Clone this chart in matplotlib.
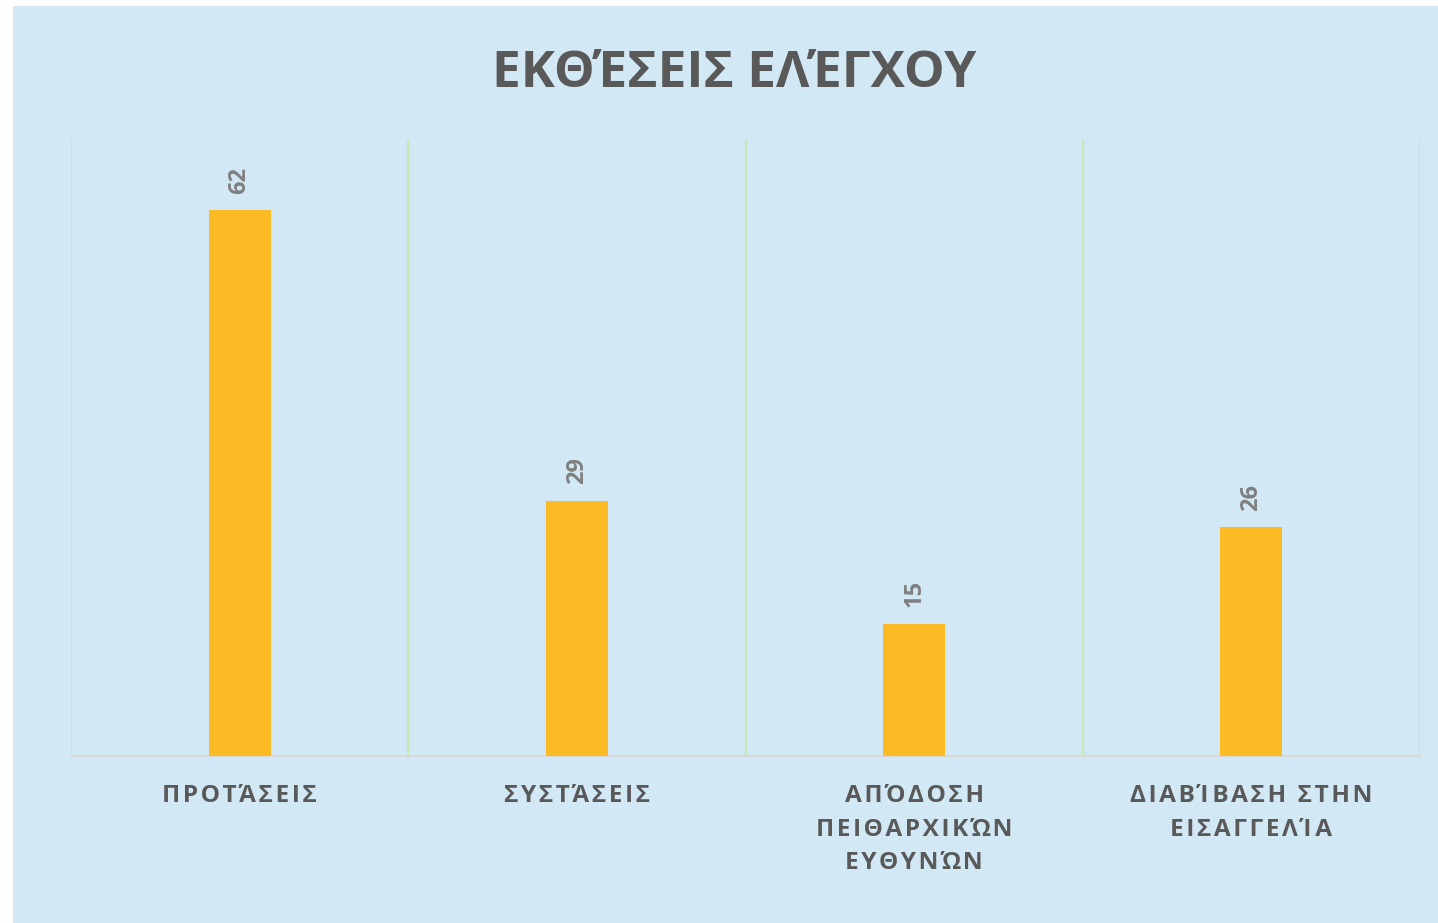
import matplotlib.pyplot as plt
from matplotlib.patches import Rectangle

categories = ["ΠΡΟΤΆΣΕΙΣ", "ΣΥΣΤΆΣΕΙΣ", "ΑΠΌΔΟΣΗ\nΠΕΙΘΑΡΧΙΚΏΝ\nΕΥΘΥΝΏΝ", "ΔΙΑΒΊΒΑΣΗ ΣΤΗΝ\nΕΙΣΑΓΓΕΛΊΑ"]
values = [62, 29, 15, 26]
title = "ΕΚΘΈΣΕΙΣ ΕΛΈΓΧΟΥ"

FONT = ["Open Sans", "DejaVu Sans"]


def spaced(s, gap="\u200a"):
    # fake letter spacing with narrow spaces
    out = []
    for line in s.split("\n"):
        words = [gap.join(w) for w in line.split(" ")]
        out.append((gap + " " + gap).join(words))
    return "\n".join(out)


fig = plt.figure(figsize=(14.38, 9.23), dpi=100, facecolor="white")
fig.patches.append(Rectangle((13 / 1438, 0), 1 - 13 / 1438, 1 - 6 / 923,
                             transform=fig.transFigure, facecolor="#D2E8F5",
                             edgecolor="none", zorder=-10))

ax = fig.add_axes([71 / 1438, 1 - 756 / 923, 1349 / 1438, 616 / 923])
ax.set_facecolor("none")

x = list(range(len(values)))
bars = ax.bar(x, values, width=0.184, color="#FCBA25", zorder=3)

ax.set_xlim(-0.5, len(values) - 0.5)
ax.set_ylim(0, 70)

ax.set_xticks([i - 0.5 for i in range(len(values) + 1)], minor=True)
ax.grid(which="minor", axis="x", color="#C5E8B5", linewidth=1.5)
ax.tick_params(which="both", length=0)
ax.set_yticks([])

ax.set_xticks(x)
ax.set_xticklabels([spaced(c) for c in categories], family=FONT,
                   fontsize=17.6, fontweight="bold", color="#595959",
                   linespacing=1.545)
ax.tick_params(axis="x", pad=20)

for s in ["left", "right", "top"]:
    ax.spines[s].set_visible(False)
ax.spines["bottom"].set_color("#D9D9D9")
ax.spines["bottom"].set_linewidth(1.5)

for b, v in zip(bars, values):
    ax.annotate(str(v), (b.get_x() + b.get_width() / 2, b.get_height()),
                xytext=(0, 12), textcoords="offset points",
                rotation=90, ha="center", va="bottom",
                family=FONT, fontsize=17, fontweight="bold", color="#808080")

fig.text(734.5 / 1438, 1 - 87 / 923, title, ha="center", va="baseline",
         family=FONT, fontsize=37, fontweight="bold", color="#595959")

plt.savefig("out.png", dpi=100, facecolor=fig.get_facecolor())
plt.close()
